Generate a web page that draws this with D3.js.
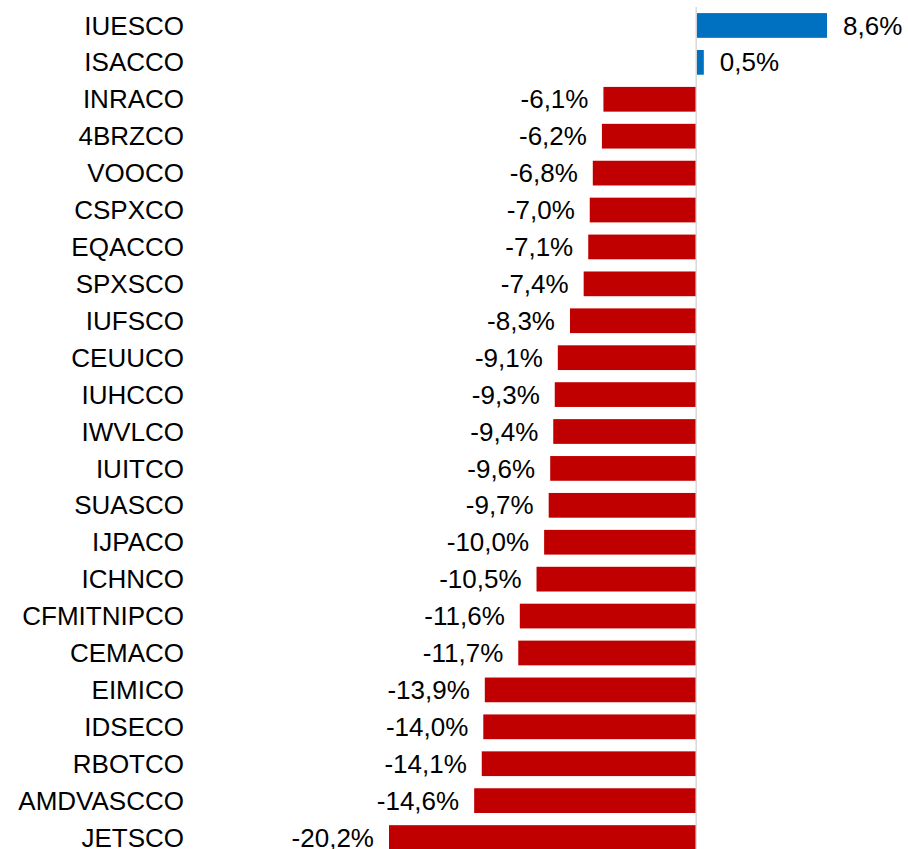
<!DOCTYPE html>
<html>
<head>
<meta charset="utf-8">
<script src="https://cdn.jsdelivr.net/npm/d3@7"></script>
<style>
  html, body { margin: 0; padding: 0; background: #fff; }
  #returns text { font-family: Arial, "Liberation Sans", sans-serif; font-size: 26px; fill: #000; }
</style>
</head>
<body>
<div id="returns"></div>
<script>
// data
const funds = ['IUESCO', 'ISACCO', 'INRACO', '4BRZCO', 'VOOCO', 'CSPXCO', 'EQACCO', 'SPXSCO',
  'IUFSCO', 'CEUUCO', 'IUHCCO', 'IWVLCO', 'IUITCO', 'SUASCO', 'IJPACO', 'ICHNCO',
  'CFMITNIPCO', 'CEMACO', 'EIMICO', 'IDSECO', 'RBOTCO', 'AMDVASCCO', 'JETSCO'];
const returns = [8.6, 0.5, -6.1, -6.2, -6.8, -7.0, -7.1, -7.4,
  -8.3, -9.1, -9.3, -9.4, -9.6, -9.7, -10.0, -10.5,
  -11.6, -11.7, -13.9, -14.0, -14.1, -14.6, -20.2];

// constants
const containerSelector = '#returns';
const width = 908;
const height = 849;
const posColor = '#0070C0';
const negColor = '#C00000';

const locale = d3.formatLocale({
  decimal: ',',
  thousands: '.',
  grouping: [3],
  currency: ['', ' €'],
  minus: '-'
});
const fmt = locale.format('.1f');

let xScale, yScale, $svg, $g;

function draw() {
  let rows = funds.map((name, i) => ({ name, value: returns[i] }));

  xScale = d3.scaleLinear()
    .domain([d3.min(returns), d3.max(returns)])
    .range([389, 827]);

  yScale = d3.scaleBand()
    .domain(funds)
    .range([7, 856])
    .paddingInner(0.33)
    .paddingOuter(0.165);

  $svg = d3.select(containerSelector).append('svg')
    .attr('width', width)
    .attr('height', height);

  $g = $svg.append('g');

  $g.selectAll('rect.bar')
    .data(rows)
    .enter()
    .append('rect')
    .classed('bar', true)
    .attr('x', d => xScale(Math.min(0, d.value)))
    .attr('y', d => yScale(d.name))
    .attr('width', d => Math.abs(xScale(d.value) - xScale(0)))
    .attr('height', yScale.bandwidth())
    .style('fill', d => d.value >= 0 ? posColor : negColor);

  // zero line
  $g.append('line')
    .attr('x1', xScale(0))
    .attr('x2', xScale(0))
    .attr('y1', yScale.range()[0])
    .attr('y2', yScale.range()[1])
    .style('stroke', '#d9d9d9')
    .style('stroke-width', 1.5);

  // value labels
  $g.selectAll('text.value')
    .data(rows)
    .enter()
    .append('text')
    .classed('value', true)
    .attr('x', d => d.value >= 0 ? xScale(d.value) + 16 : xScale(d.value) - 15)
    .attr('y', d => yScale(d.name) + yScale.bandwidth() / 2)
    .attr('dy', '0.35em')
    .attr('text-anchor', d => d.value >= 0 ? 'start' : 'end')
    .text(d => fmt(d.value) + '%');

  // category labels
  $g.selectAll('text.name')
    .data(rows)
    .enter()
    .append('text')
    .classed('name', true)
    .attr('x', 184)
    .attr('y', d => yScale(d.name) + yScale.bandwidth() / 2)
    .attr('dy', '0.35em')
    .attr('text-anchor', 'end')
    .text(d => d.name);
}

draw();
</script>
</body>
</html>
